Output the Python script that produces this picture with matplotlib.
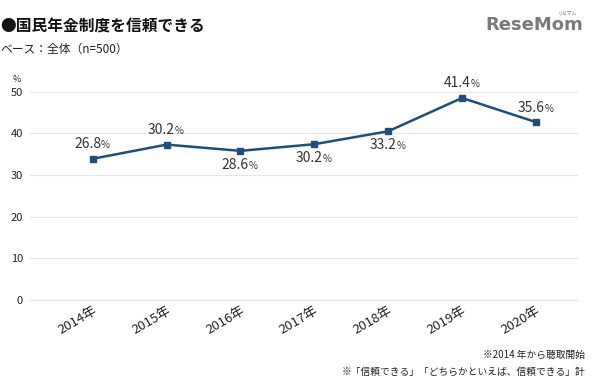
import matplotlib
matplotlib.use("Agg")
import matplotlib.pyplot as plt

plt.rcParams['font.family'] = ['Noto Sans CJK JP', 'DejaVu Sans']

years = ['2014年', '2015年', '2016年', '2017年', '2018年', '2019年', '2020年']
# printed labels
trust_pct = [26.8, 30.2, 28.6, 30.2, 33.2, 41.4, 35.6]
# where the markers sit on the axis in the original picture
marker_y = [33.9, 37.3, 35.8, 37.4, 40.5, 48.5, 42.7]
label_above = [True, True, False, False, False, True, True]
yticks = [0, 10, 20, 30, 40, 50]

line_color = '#1f4e79'
text_color = '#333333'

fig = plt.figure(figsize=(5.96, 3.89), dpi=100)
ax = fig.add_axes([30 / 596, 1 - 300 / 389, 548 / 596, 208.3 / 389])

x = range(len(years))
ax.plot(x, marker_y, color=line_color, lw=1.8, marker='s', ms=5, zorder=3)

for i, (v, y) in enumerate(zip(trust_pct, marker_y)):
    dy = 10.5 if label_above[i] else -10
    ax.annotate('{:.1f}'.format(v), (i, y), xytext=(6, dy), textcoords='offset points',
                ha='right', va='center', fontsize=10, color=text_color)
    ax.annotate('%', (i, y), xytext=(6, dy - 0.8), textcoords='offset points',
                ha='left', va='center', fontsize=7, color=text_color)

ax.set_xlim(-0.85, 6.57)
ax.set_ylim(0, 50)
ax.set_yticks(yticks)
ax.set_yticklabels([str(t) for t in yticks], fontsize=8, color='#222222')
ax.set_xticks(list(x))
ax.set_xticklabels(years, rotation=30, ha='right', rotation_mode='anchor',
                   fontsize=9.5, color='#222222')
ax.tick_params(axis='y', length=0, pad=5)
ax.tick_params(axis='x', length=0, pad=3)
for lbl in ax.get_xticklabels():
    lbl.set_x(lbl.get_position()[0])
ax.grid(axis='y', color='#e6e6e6', lw=0.8)
ax.set_axisbelow(True)
for s in ['top', 'right', 'left']:
    ax.spines[s].set_visible(False)
ax.spines['bottom'].set_color('#e6e6e6')

fig.text(17 / 596, 1 - 79 / 389, '%', fontsize=6.5, ha='center', va='center', color='#222222')

fig.text(0, 1 - 27 / 389, '●国民年金制度を信頼できる', fontsize=11.3, fontweight='bold',
         ha='left', va='center', color='#111111')
fig.text(0, 1 - 49 / 389, 'ベース：全体（n=500）', fontsize=8.5, ha='left', va='center',
         color='#222222')

fig.text(583 / 596, 1 - 25 / 389, 'ReseMom', fontsize=13, fontweight='bold',
         ha='right', va='center', color='#7a7a7a', family='DejaVu Sans')
fig.text(568 / 596, 1 - 13 / 389, 'リセマム', fontsize=3.5, ha='center', va='center',
         color='#7a7a7a')

fig.text(585 / 596, 1 - 355 / 389, '※2014 年から聴取開始', fontsize=7, ha='right',
         va='center', color='#222222')
fig.text(585 / 596, 1 - 372 / 389, '※「信頼できる」「どちらかといえば、信頼できる」計',
         fontsize=7, ha='right', va='center', color='#222222')

fig.savefig('out.png', dpi=100)
